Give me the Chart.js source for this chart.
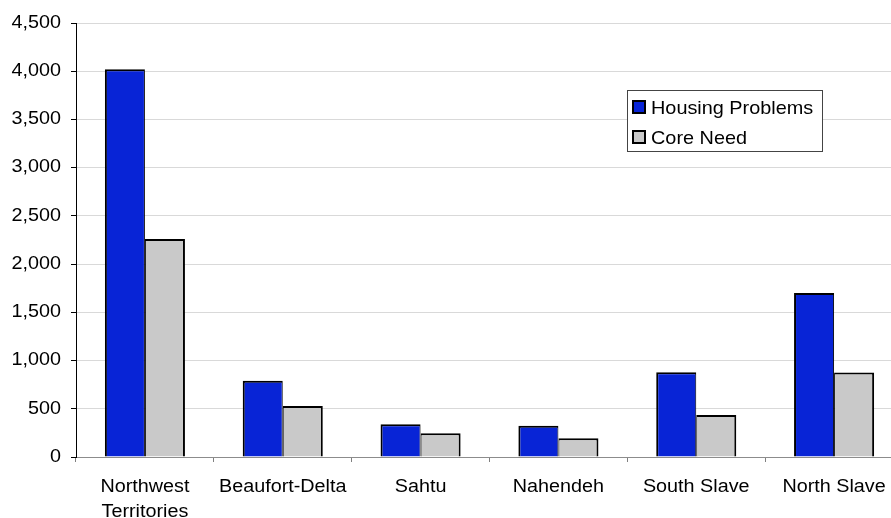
<!DOCTYPE html>
<html>
<head>
<meta charset="utf-8">
<script src="https://cdn.jsdelivr.net/npm/chart.js@4"></script>
<style>
html,body{margin:0;padding:0;background:#fff;overflow:hidden;width:891px;height:518px;}
canvas{display:block;}
</style>
</head>
<body>
<canvas id="c" width="903" height="518"></canvas>
<script>
const categories = [['Northwest', 'Territories'], 'Beaufort-Delta', 'Sahtu', 'Nahendeh', 'South Slave', 'North Slave'];
const housingProblems = [4020, 790, 340, 325, 880, 1700];
const coreNeed = [2260, 530, 245, 195, 435, 875];
const seriesNames = ['Housing Problems', 'Core Need'];
const yTicks = { min: 0, max: 4500, step: 500 };

const FONT = '"Liberation Sans", Arial, sans-serif';
const BLUE = '#0824D6';
const GREY = '#C9C9C9';

const canvas = document.getElementById('c');
const ctx2d = canvas.getContext('2d');
const origFillText = ctx2d.fillText.bind(ctx2d);
let STRETCH = 1.13;
ctx2d.fillText = function (t, x, y, mw) {
  if (STRETCH === 1) return mw === undefined ? origFillText(t, x, y) : origFillText(t, x, y, mw);
  this.save();
  this.translate(x, y);
  this.scale(STRETCH, 1);
  if (mw === undefined) origFillText(t, 0, 0); else origFillText(t, 0, 0, mw / STRETCH);
  this.restore();
};

const legendPlugin = {
  id: 'boxLegend',
  afterDraw(chart) {
    const ctx = chart.ctx;
    ctx.save();
    const x = 627.5, y = 90.5, w = 195, h = 61;
    ctx.fillStyle = '#fff';
    ctx.fillRect(x, y, w, h);
    ctx.strokeStyle = '#444';
    ctx.lineWidth = 1;
    ctx.strokeRect(x, y, w, h);
    ctx.font = '19px ' + FONT;
    ctx.textBaseline = 'alphabetic';
    ctx.textAlign = 'left';
    STRETCH = 1.045;
    chart.data.datasets.forEach((ds, i) => {
      const sy = 101 + i * 30;
      ctx.fillStyle = ds.backgroundColor;
      ctx.fillRect(633, sy, 12, 12);
      ctx.strokeStyle = '#000';
      ctx.lineWidth = 2;
      ctx.strokeRect(633, sy, 12, 12);
      ctx.fillStyle = '#000';
      ctx.fillText(ds.label, 651, sy + 13);
    });
    STRETCH = 1.13;
    ctx.restore();
  }
};

new Chart(canvas, {
  type: 'bar',
  data: {
    labels: categories,
    datasets: [
      { label: seriesNames[0], data: housingProblems, backgroundColor: BLUE, borderColor: '#000',
        borderWidth: { top: 2, left: 2, right: 1, bottom: 0 } },
      { label: seriesNames[1], data: coreNeed, backgroundColor: GREY, borderColor: '#000',
        borderWidth: { top: 2, left: 1, right: 2, bottom: 0 } }
    ]
  },
  options: {
    responsive: false,
    animation: false,
    devicePixelRatio: 1,
    layout: { padding: { top: 23, right: 0, bottom: 0, left: 0 } },
    datasets: { bar: { barPercentage: 1, categoryPercentage: 0.581 } },
    plugins: { legend: { display: false }, tooltip: { enabled: false } },
    scales: {
      x: {
        grid: { offset: true, drawOnChartArea: false, drawTicks: true, tickLength: 5, tickColor: '#808080', color: '#808080' },
        border: { color: '#8c8c8c', width: 1 },
        ticks: { color: '#000', padding: 13, maxRotation: 0, autoSkip: false, font: { family: FONT, size: 17.5, lineHeight: 1.43 } },
        afterFit(s) { s.height = 61; }
      },
      y: {
        min: yTicks.min, max: yTicks.max,
        grid: { color: '#d9d9d9', tickColor: '#000', tickLength: 5, lineWidth: 1 },
        border: { color: '#000', width: 1 },
        ticks: { stepSize: yTicks.step, color: '#000', padding: 10, font: { family: FONT, size: 17.5 } },
        afterFit(s) { s.width = 76; }
      }
    }
  },
  plugins: [legendPlugin]
});
</script>
</body>
</html>
